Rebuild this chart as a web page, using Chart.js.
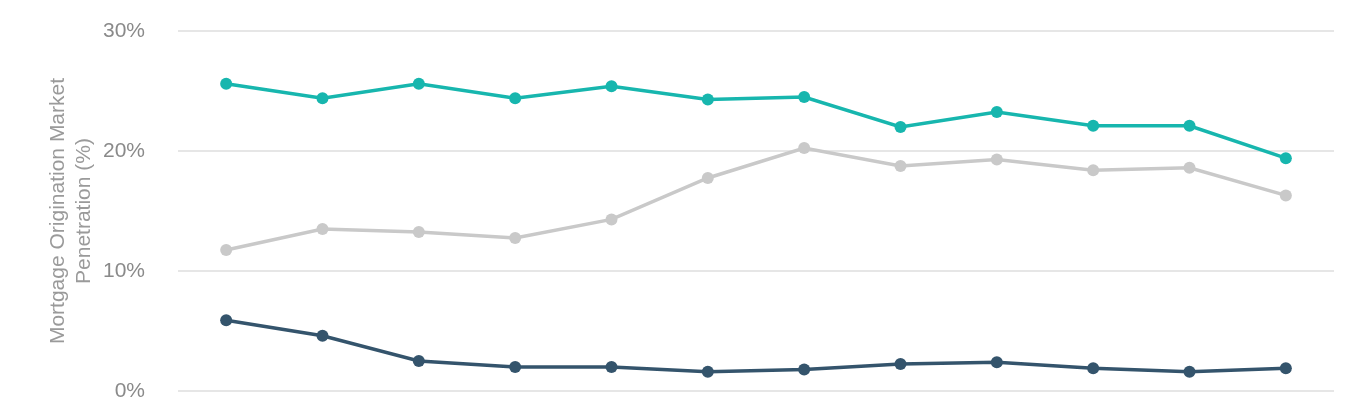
<!DOCTYPE html>
<html>
<head>
<meta charset="utf-8">
<script src="https://cdn.jsdelivr.net/npm/chart.js@4"></script>
<style>
  html, body { margin: 0; padding: 0; background: #fff; }
  #wrap { width: 1370px; height: 400px; position: relative; }
</style>
</head>
<body>
<div id="wrap"><canvas id="mktChart"></canvas></div>
<script>
// Periods along the x axis (labels are not visible in the picture)
const periods = ['P1', 'P2', 'P3', 'P4', 'P5', 'P6', 'P7', 'P8', 'P9', 'P10', 'P11', 'P12'];

// Market penetration values (%)
const tealSeries = [25.6, 24.4, 25.6, 24.4, 25.4, 24.3, 24.5, 22.0, 23.25, 22.1, 22.1, 19.4];
const graySeries = [11.75, 13.5, 13.25, 12.75, 14.3, 17.75, 20.25, 18.75, 19.3, 18.4, 18.6, 16.3];
const darkSeries = [5.9, 4.6, 2.5, 2.0, 2.0, 1.6, 1.8, 2.25, 2.4, 1.9, 1.6, 1.9];

const yTicks = [0, 10, 20, 30];

document.addEventListener('DOMContentLoaded', () => {
    const ctx = document.getElementById('mktChart').getContext('2d');

    const mkLine = (data, color) => ({
        data: data,
        borderColor: color,
        backgroundColor: color,
        borderWidth: 3.5,
        pointRadius: 6,
        pointHoverRadius: 6,
        pointBorderWidth: 0,
        tension: 0,
        fill: false
    });

    new Chart(ctx, {
        type: 'line',
        data: {
            labels: periods,
            datasets: [
                mkLine(darkSeries, '#34546c'),
                mkLine(graySeries, '#c9c9c9'),
                mkLine(tealSeries, '#17b6ae')
            ]
        },
        options: {
            responsive: true,
            maintainAspectRatio: false,
            animation: false,
            layout: { padding: { top: 31, right: 36, bottom: 9, left: 0 } },
            plugins: {
                legend: { display: false },
                tooltip: { enabled: false }
            },
            scales: {
                x: {
                    display: false,
                    offset: true
                },
                y: {
                    min: yTicks[0],
                    max: yTicks[yTicks.length - 1],
                    afterBuildTicks: (axis) => { axis.ticks = yTicks.map(v => ({ value: v })); },
                    afterFit: (axis) => {
                        axis.width = 178;
                        // let the layout padding decide where the plot starts / ends
                        axis.paddingTop = 0;
                        axis.paddingBottom = 0;
                    },
                    grid: { color: '#e6e6e6', lineWidth: 2, drawTicks: true, tickLength: 33, tickColor: 'rgba(0,0,0,0)' },
                    border: { display: false },
                    ticks: {
                        padding: 0,
                        color: '#8a8a8a',
                        font: { family: 'Liberation Sans, Arial, sans-serif', size: 21 },
                        callback: (v) => v + '%'
                    },
                    title: {
                        display: true,
                        text: ['Mortgage Origination Market', 'Penetration (%)'],
                        color: '#9a9a9a',
                        font: { family: 'Liberation Sans, Arial, sans-serif', size: 21, lineHeight: 1.2 },
                        padding: { top: 46, bottom: 0 }
                    }
                }
            }
        }
    });
});
</script>
</body>
</html>
